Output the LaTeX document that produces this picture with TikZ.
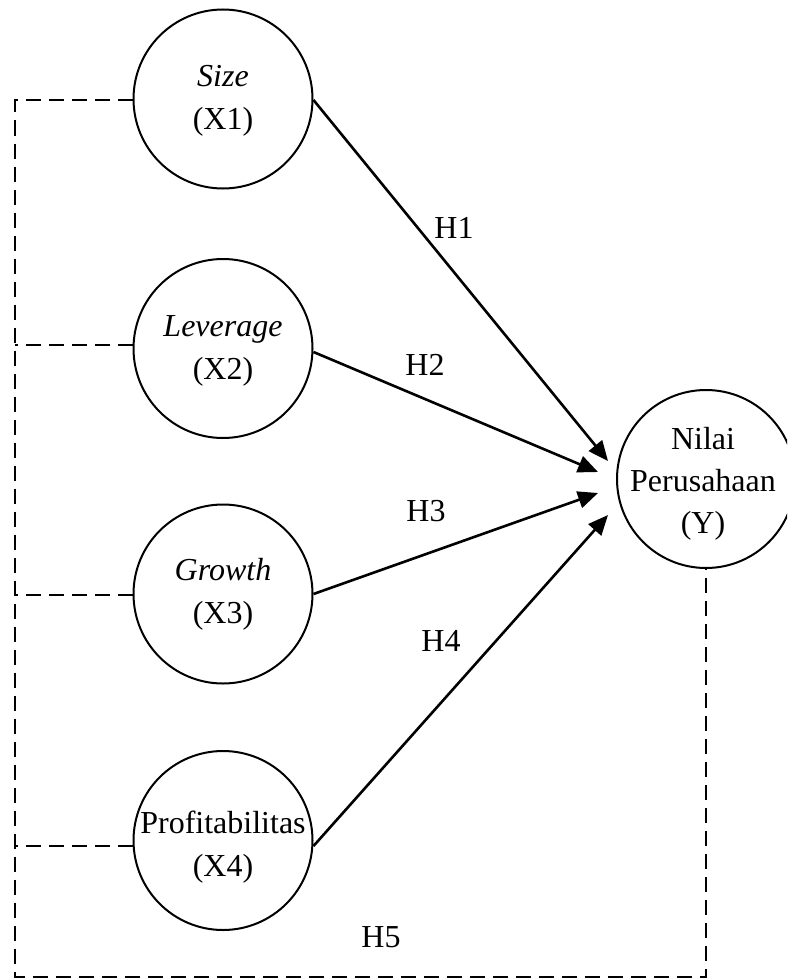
\documentclass[tikz,border=0pt]{standalone}
\usepackage{fontspec}
\setmainfont{Liberation Serif}
\usetikzlibrary{arrows.meta}
\begin{document}
\begin{tikzpicture}[x=1pt,y=-1pt,
  varc/.style={circle, draw, line width=2pt, minimum size=179pt, inner sep=0pt},
  ycirc/.style={circle, draw, line width=2pt, minimum size=178pt, inner sep=0pt},
  vtext/.style={align=center, font=\fontsize{32}{43}\selectfont, inner sep=0pt},
  ytext/.style={align=center, font=\fontsize{32}{42}\selectfont, inner sep=0pt},
  hlab/.style={font=\fontsize{32}{40}\selectfont, inner sep=0pt},
  effarrow/.style={line width=2.6pt, -{Triangle[length=20pt,width=17pt]}},
  corr/.style={line width=2pt, dash pattern=on 15pt off 8pt}
]
\useasboundingbox (0,0) rectangle (787,979);
\clip (0,0) rectangle (787,979);

% circles
\node[varc] (x1) at (223,99) {};
\node[varc] (x2) at (223,348.5) {};
\node[varc] (x3) at (223,594) {};
\node[varc] (x4) at (223,840.5) {};
\node[ycirc] (y) at (706,479) {};

% texts
\node[vtext] (x1t) at (223,100.7) {\textit{Size}\\(X1)};
\node[vtext] (x2t) at (223,350.7) {\textit{Leverage}\\(X2)};
\node[vtext] (x3t) at (223,594.4) {\textit{Growth}\\(X3)};
\node[vtext] (x4t) at (223,847.4) {Profitabilitas\\(X4)};
\node[ytext] (yt) at (703,484) {Nilai\\Perusahaan\\(Y)};

% arrow tips
\coordinate (t1) at (608,461);
\coordinate (t2) at (598,472);
\coordinate (t3) at (598,493);
\coordinate (t4) at (608,515);

\draw[effarrow] (x1.east |- 0,100) -- (t1);
\draw[effarrow] (x2.east |- 0,352) -- (t2);
\draw[effarrow] (x3.east |- 0,594) -- (t3);
\draw[effarrow] (x4.east |- 0,846) -- (t4);

% labels
\node[hlab] (h1l) at (454,228) {H1};
\node[hlab] (h2l) at (425,365) {H2};
\node[hlab] (h3l) at (426,511) {H3};
\node[hlab] (h4l) at (441,641) {H4};
\node[hlab] (h5l) at (381,937) {H5};

% dashed correlation frame
\coordinate (h1) at (15,100);
\coordinate (h2) at (15,345);
\coordinate (h3) at (15,595);
\coordinate (h4) at (15,846);
\coordinate (bl) at (15,977);

\draw[corr] (h1 -| x1.west) -- (h1) -- (bl) -- (bl -| y.south) -- (y.south);
\draw[corr] (h2 -| x2.west) -- (h2);
\draw[corr] (h3 -| x3.west) -- (h3);
\draw[corr] (h4 -| x4.west) -- (h4);
\end{tikzpicture}
\end{document}
